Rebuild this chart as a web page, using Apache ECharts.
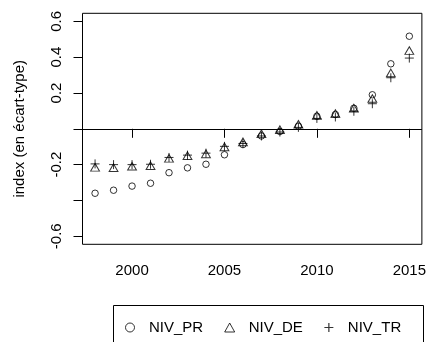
<!DOCTYPE html>
<html>
<head>
<meta charset="utf-8">
<script src="https://cdn.jsdelivr.net/npm/echarts@6/dist/echarts.min.js"></script>
<style>html,body{margin:0;padding:0;background:#fff}#c{width:429px;height:342px}</style>
</head>
<body>
<div id="c"></div>
<script>
const years = [1998,1999,2000,2001,2002,2003,2004,2005,2006,2007,2008,2009,2010,2011,2012,2013,2014,2015];
const NIV_PR = [-0.36,-0.343,-0.32,-0.304,-0.245,-0.218,-0.198,-0.145,-0.088,-0.04,-0.015,0.015,0.07,0.08,0.115,0.19,0.363,0.517];
const NIV_DE = [-0.222,-0.224,-0.216,-0.213,-0.172,-0.157,-0.147,-0.108,-0.08,-0.035,-0.012,0.018,0.068,0.078,0.108,0.162,0.305,0.43];
const NIV_TR = [-0.196,-0.2,-0.2,-0.198,-0.16,-0.147,-0.136,-0.098,-0.082,-0.04,-0.018,0.008,0.058,0.066,0.098,0.14,0.285,0.395];
const xTicks = [2000,2005,2010,2015];
const yTicks = [-0.6,-0.4,-0.2,0,0.2,0.4,0.6];
const yLabels = [-0.6,-0.2,0.2,0.4,0.6];
const seriesNames = ['NIV_PR','NIV_DE','NIV_TR'];
const yTitle = 'index (en écart-type)';

const FONT = "'Liberation Sans', Arial, sans-serif";
const pairs = arr => years.map((y,i)=>[y,arr[i]]);
const hollow = {color:'none', borderColor:'#000', borderWidth:1};
const PLUS = 'path://M5,0L5,10M0,5L10,5';
const chart = echarts.init(document.getElementById('c'), null, {renderer:'canvas'});
chart.setOption({
  animation:false,
  backgroundColor:'#fff',
  textStyle:{fontFamily:FONT},
  grid:{left:82.5, right:5.7, top:13.3, bottom:97.7, show:true, borderColor:'#000', borderWidth:1, backgroundColor:'transparent'},
  xAxis:{
    type:'value', min:1997.32, max:2015.68,
    axisLine:{show:false},
    splitLine:{show:false},
    axisTick:{show:true, length:9, customValues:xTicks, lineStyle:{color:'#000', width:1}},
    axisLabel:{customValues:xTicks, margin:19, fontSize:15, color:'#000', fontFamily:FONT, formatter:v=>String(v)}
  },
  yAxis:{
    type:'value', min:-0.645, max:0.645,
    name:yTitle, nameLocation:'middle', nameRotate:90, nameGap:55,
    nameTextStyle:{fontSize:15, color:'#000', fontFamily:FONT},
    axisLine:{show:false},
    splitLine:{show:false},
    axisTick:{show:true, length:9, customValues:yTicks, lineStyle:{color:'#000', width:1}},
    axisLabel:{customValues:yLabels, rotate:90, margin:18, fontSize:15, color:'#000', fontFamily:FONT, formatter:v=>String(Math.round(v*10)/10)}
  },
  legend:{
    left:118, top:315, itemWidth:10, itemHeight:9, itemGap:19,
    textStyle:{fontSize:15, color:'#000', fontFamily:FONT, padding:[0,0,0,9]},
    data:[
      {name:seriesNames[0], icon:'circle', itemStyle:{color:'none', borderColor:'#000', borderWidth:1}},
      {name:seriesNames[1], icon:'triangle', itemStyle:{color:'none', borderColor:'#000', borderWidth:1}},
      {name:seriesNames[2], icon:PLUS, itemStyle:{color:'none', borderColor:'#000', borderWidth:1.2}}
    ],
    selectedMode:false
  },
  graphic:[{type:'rect', shape:{x:113.5, y:305.5, width:310, height:50}, style:{fill:'none', stroke:'#000', lineWidth:1}, silent:true}],
  series:[
    {name:seriesNames[0], type:'scatter', data:pairs(NIV_PR), symbol:'circle', symbolSize:6.5, itemStyle:hollow,
     markLine:{silent:true, symbol:['none','none'], label:{show:false}, lineStyle:{color:'#000', type:'solid', width:1.2}, data:[{yAxis:0}]}},
    {name:seriesNames[1], type:'scatter', data:pairs(NIV_DE), symbol:'triangle', symbolSize:[8.8,7.6], symbolOffset:[0,-1.26], itemStyle:hollow},
    {name:seriesNames[2], type:'scatter', data:pairs(NIV_TR), symbol:PLUS, symbolSize:9, itemStyle:hollow}
  ]
});
</script>
</body>
</html>
